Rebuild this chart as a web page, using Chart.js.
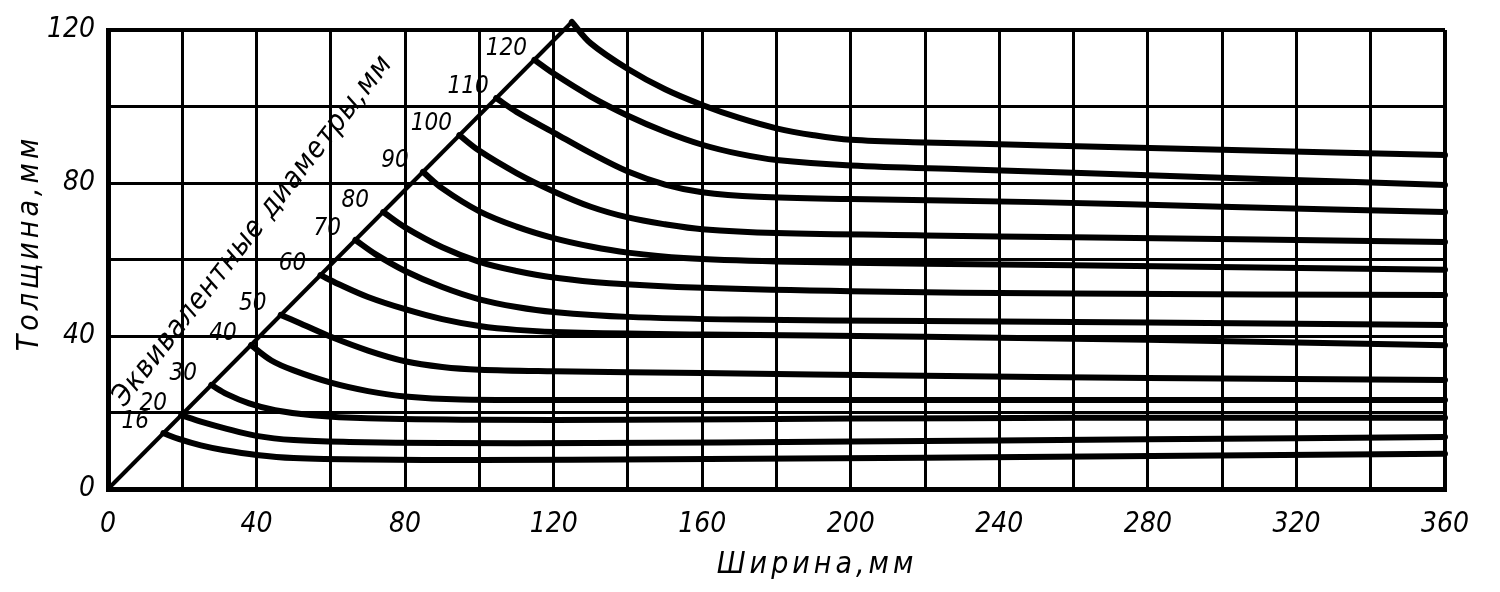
<!DOCTYPE html>
<html>
<head>
<meta charset="utf-8">
<script src="https://cdn.jsdelivr.net/npm/chart.js@4.4.0/dist/chart.umd.min.js"></script>
<style>
  html, body { margin: 0; background: #fff; }
  #wrap { width: 1500px; height: 592px; }
</style>
</head>
<body>
<div id="wrap"><canvas id="chart"></canvas></div>
<script>
// Ticks shown on the axes (grid every 20 mm)
const xTickLabels = [0, 40, 80, 120, 160, 200, 240, 280, 320, 360];
const yTickLabels = [0, 40, 80, 120];

// Equivalent-diameter labels, bottom to top
const diameterLabels = ['16', '20', '30', '40', '50', '60', '70', '80', '90', '100', '110', '120'];

// Curves: [width, thickness], first point sits on the diagonal
const curve16  = [[14.9, 14.6], [19, 13.1], [25, 11.4], [31, 10.2], [40, 8.9], [50, 8.1], [70, 7.7], [100, 7.6], [150, 7.8], [220, 8.2], [290, 8.7], [360, 9.2]];
const curve20  = [[19.7, 19.3], [25, 17.6], [31, 16.0], [40, 13.9], [50, 12.8], [65, 12.3], [90, 12.0], [130, 12.0], [200, 12.4], [280, 13.0], [360, 13.6]];
const curve30  = [[27.8, 27.2], [32, 24.8], [38, 22.4], [45, 20.6], [55, 19.3], [70, 18.5], [100, 18.1], [140, 18.1], [200, 18.4], [260, 18.6], [360, 18.6]];
const curve40  = [[38.5, 37.6], [44, 33.6], [50, 31.0], [60, 27.8], [70, 25.6], [80, 24.2], [95, 23.4], [120, 23.3], [180, 23.3], [260, 23.3], [360, 23.3]];
const curve50  = [[46.5, 45.5], [52, 43.2], [60, 39.8], [70, 36.2], [80, 33.4], [90, 31.9], [100, 31.2], [120, 30.8], [160, 30.3], [220, 29.6], [280, 29.0], [360, 28.5]];
const curve60  = [[57.2, 55.9], [62, 53.6], [70, 50.2], [80, 47.0], [90, 44.4], [100, 42.6], [110, 41.6], [125, 40.9], [160, 40.4], [220, 39.8], [280, 39.0], [360, 37.6]];
const curve70  = [[66.6, 65.1], [72, 61.4], [80, 57.0], [90, 52.8], [100, 49.6], [110, 47.6], [120, 46.3], [140, 45.0], [170, 44.3], [220, 43.9], [280, 43.5], [360, 42.9]];
const curve80  = [[74.1, 72.4], [80, 68.4], [90, 63.2], [100, 59.4], [110, 57.0], [120, 55.3], [135, 53.8], [160, 52.6], [200, 51.7], [260, 51.1], [360, 50.7]];
const curve90  = [[84.8, 82.9], [90, 78.6], [100, 72.6], [110, 68.6], [120, 65.6], [130, 63.4], [140, 61.8], [155, 60.4], [180, 59.5], [220, 58.9], [260, 58.5], [360, 57.3]];
const curve100 = [[94.6, 92.5], [100, 88.4], [110, 82.6], [120, 77.8], [130, 73.8], [140, 71.0], [150, 69.2], [160, 67.9], [180, 66.9], [220, 66.3], [260, 65.8], [360, 64.6]];
const curve110 = [[104.5, 102.2], [110, 98.6], [120, 93.2], [130, 87.8], [140, 83.0], [150, 79.6], [160, 77.6], [175, 76.4], [200, 75.8], [250, 75.0], [300, 73.8], [360, 72.4]];
const curve120 = [[114.8, 112.2], [120, 108.6], [130, 102.6], [140, 97.6], [150, 93.4], [160, 90.0], [170, 87.6], [180, 86.0], [200, 84.6], [230, 83.6], [260, 82.7], [300, 81.4], [360, 79.5]];
const curveTop = [[124.9, 122.1], [130, 116.5], [140, 109.8], [150, 104.5], [160, 100.4], [170, 97.0], [180, 94.3], [190, 92.5], [200, 91.3], [220, 90.6], [250, 89.9], [300, 88.7], [360, 87.3]];

// Diagonal the curves start from
const diagonal = [[0, 0], [124.9, 122.1]];

const labelledCurves = [curve16, curve20, curve30, curve40, curve50, curve60, curve70,
                        curve80, curve90, curve100, curve110, curve120];

const FONT = '"Liberation Sans Narrow", "DejaVu Sans Condensed", "DejaVu Sans", sans-serif';

const toPoints = arr => arr.map(p => ({ x: p[0], y: p[1] }));

const curveSets = labelledCurves.concat([curveTop]).map(c => ({
    data: toPoints(c),
    showLine: true,
    borderColor: '#000',
    borderWidth: 6,
    borderCapStyle: 'round',
    pointRadius: 0,
    tension: 0.35,
    clip: false
}));

const captions = {
    id: 'captions',
    afterDatasetsDraw(chart) {
        const { ctx, scales: { x, y } } = chart;
        ctx.save();
        ctx.fillStyle = '#000';

        // numbers next to each curve start
        ctx.font = 'italic 24px ' + FONT;
        ctx.textAlign = 'center';
        ctx.textBaseline = 'middle';
        labelledCurves.forEach((c, i) => {
            const px = x.getPixelForValue(c[0][0]);
            const py = y.getPixelForValue(c[0][1]);
            ctx.fillText(diameterLabels[i], px - 28, py - 11);
        });

        // caption along the diagonal
        ctx.save();
        ctx.translate(x.getPixelForValue(39), y.getPixelForValue(67.5));
        ctx.rotate(-52 * Math.PI / 180);
        ctx.font = 'italic 29px ' + FONT;
        ctx.letterSpacing = '1px';
        ctx.fillText('Эквивалентные диаметры,мм', 0, 0);
        ctx.restore();

        // axis titles
        ctx.font = 'italic 30px ' + FONT;
        ctx.letterSpacing = '4px';
        ctx.fillText('Ширина,мм', 817, 565);
        ctx.save();
        ctx.translate(30, 243);
        ctx.rotate(-Math.PI / 2);
        ctx.fillText('Толщина,мм', 0, 0);
        ctx.restore();
        ctx.restore();
    }
};

const gridWidth = max => ctx => (ctx.tick && (ctx.tick.value === 0 || ctx.tick.value === max)) ? 4 : 3;

new Chart(document.getElementById('chart'), {
    type: 'scatter',
    data: {
        datasets: [{
            data: toPoints(diagonal),
            showLine: true,
            borderColor: '#000',
            borderWidth: 4,
            pointRadius: 0,
            clip: false
        }].concat(curveSets)
    },
    options: {
        responsive: true,
        maintainAspectRatio: false,
        animation: false,
        layout: { padding: { top: 30, right: 55, left: 0, bottom: 0 } },
        plugins: { legend: { display: false }, tooltip: { enabled: false } },
        scales: {
            x: {
                type: 'linear',
                min: 0,
                max: 360,
                afterFit: s => { s.height = 103; },
                grid: { color: '#000', lineWidth: gridWidth(360), drawTicks: false },
                border: { display: true, color: '#000', width: 5 },
                ticks: {
                    stepSize: 20,
                    autoSkip: false,
                    maxRotation: 0,
                    padding: 19,
                    color: '#000',
                    font: { family: FONT, size: 28, style: 'italic' },
                    callback: v => xTickLabels.includes(v) ? String(v) : ''
                }
            },
            y: {
                type: 'linear',
                min: 0,
                max: 120,
                afterFit: s => { s.width = 108; },
                grid: { color: '#000', lineWidth: gridWidth(120), drawTicks: false },
                border: { display: true, color: '#000', width: 5 },
                ticks: {
                    stepSize: 20,
                    autoSkip: false,
                    padding: 13,
                    color: '#000',
                    font: { family: FONT, size: 28, style: 'italic' },
                    callback: v => yTickLabels.includes(v) ? String(v) : ''
                }
            }
        }
    },
    plugins: [captions]
});
</script>
</body>
</html>
